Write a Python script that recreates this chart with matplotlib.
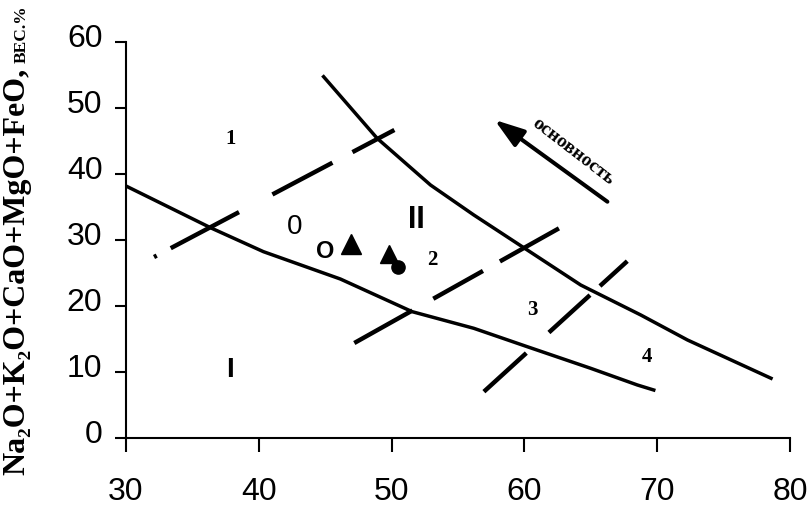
"""Diagram: Na2O+K2O+CaO+MgO+FeO vs SiO2 with field boundaries."""
import matplotlib
matplotlib.use("Agg")
import matplotlib.pyplot as plt
from matplotlib.transforms import ScaledTranslation

# boundary curves (x = SiO2, y = sum of oxides)
lower_x = [30.00, 36.46, 40.35, 46.14, 51.55, 56.19, 60.22, 64.99, 68.51, 69.74]
lower_y = [38.18, 31.77, 28.23, 24.09, 19.14, 16.62, 13.83, 10.56, 8.03, 7.27]
upper_x = [44.88, 48.91, 52.93, 56.19, 59.84, 64.24, 68.76, 72.28, 78.57]
upper_y = [54.74, 45.41, 38.33, 33.79, 28.98, 23.18, 18.64, 14.85, 9.05]

# dashed dividing lines: (x0, x1), (y0, y1)
dash_x = [(32.11, 50.21), (47.19, 62.65), (56.95, 67.76)]
dash_y = [(27.42, 46.67), (14.39, 31.82), (7.02, 26.82)]
# dash patterns in points (on, off, ...)
dash_patterns = [
    (0, (2.2, 11.4, 55.6, 27.2, 48.9, 16.3, 34.7, 10)),
    (0, (47.9, 17.3, 41.0, 14.0, 48.7, 10)),
    (0, (41.3, 22.0, 40.0, 9.7, 26.6, 10)),
]

# field numbers
num_labels = ["1", "2", "3", "4"]
num_x = [37.9, 53.1, 60.6, 69.2]
num_y = [45.3, 27.0, 19.4, 12.2]

# roman / symbol labels
sym_labels = ["0", "O", "II", "I"]
sym_x = [42.67, 45.0, 51.83, 37.8]
sym_y = [31.97, 28.2, 33.0, 10.3]

# sample points
tri_x = [46.97, 49.83]
tri_y = [29.4, 27.9]
dot_x = [50.51]
dot_y = [25.9]

# basicity arrow
arrow_tail = (66.25, 35.8)
arrow_tip = (57.75, 48.2)
arrow_text = "основность"
arrow_text_xy = (63.7, 43.4)

xticks = [30, 40, 50, 60, 70, 80]
yticks = [0, 10, 20, 30, 40, 50, 60]

plt.rcParams["lines.scale_dashes"] = False

fig = plt.figure(figsize=(8.09, 5.08), dpi=100)
ax = fig.add_axes([0.15575, 0.13780, 0.82077, 0.77953])
ax.set_xlim(30, 80)
ax.set_ylim(0, 60)
ax.set_xticks(xticks)
ax.set_yticks(yticks)
for s in ["top", "right"]:
    ax.spines[s].set_visible(False)
for s in ["left", "bottom"]:
    ax.spines[s].set_linewidth(1.5)
ax.tick_params(axis="x", direction="out", length=10, width=1.5, pad=18)
ax.tick_params(axis="y", direction="out", length=8, width=1.5, pad=9)
for lab in ax.get_xticklabels() + ax.get_yticklabels():
    lab.set_fontfamily("Liberation Sans")
    lab.set_fontsize(23)
off = ScaledTranslation(0, 6 / 100, fig.dpi_scale_trans)
for lab in ax.get_yticklabels():
    lab.set_transform(lab.get_transform() + off)

ax.plot(lower_x, lower_y, color="black", lw=2.5, solid_joinstyle="round")
ax.plot(upper_x, upper_y, color="black", lw=2.5, solid_joinstyle="round")
for xs, ys, ls in zip(dash_x, dash_y, dash_patterns):
    ax.plot(xs, ys, color="black", lw=3.2, linestyle=ls, dash_capstyle="butt")

for t, x, y in zip(num_labels, num_x, num_y):
    ax.text(x, y, t, ha="center", va="center", fontsize=15, fontweight="bold",
            family="Liberation Serif")
sym_sizes = [20, 17, 22, 20]
sym_weights = ["normal", "bold", "bold", "bold"]
for t, x, y, fs, fw in zip(sym_labels, sym_x, sym_y, sym_sizes, sym_weights):
    ax.text(x, y, t, ha="center", va="center", fontsize=fs, fontweight=fw,
            family="Liberation Sans")

ax.plot(tri_x[:1], tri_y[:1], marker="^", ms=14, color="black", ls="none")
ax.plot(tri_x[1:], tri_y[1:], marker="^", ms=13, color="black", ls="none")
ax.plot(dot_x, dot_y, marker="o", ms=9.5, color="black", ls="none")

ax.annotate("", xy=arrow_tip, xytext=arrow_tail,
            arrowprops=dict(arrowstyle="-|>,head_length=0.9,head_width=0.3",
                            mutation_scale=20, lw=2.9, color="black",
                            shrinkA=0, shrinkB=0))
ax.text(arrow_text_xy[0], arrow_text_xy[1], arrow_text, rotation=-37.6,
        rotation_mode="anchor", ha="center", va="center", fontsize=14,
        fontweight="bold", family="Liberation Serif")

fig.text(0.021, 0.465, "Na\u2082O+K\u2082O+CaO+MgO+FeO,", rotation=90,
         ha="center", va="center", fontsize=23, fontweight="bold",
         family=["Liberation Serif", "DejaVu Serif"])
fig.text(0.0268, 0.933, "ВЕС.%", rotation=90, ha="center", va="center",
         fontsize=12.5, fontweight="bold", family="Liberation Serif")

fig.savefig("out.png", dpi=100, facecolor="white")
